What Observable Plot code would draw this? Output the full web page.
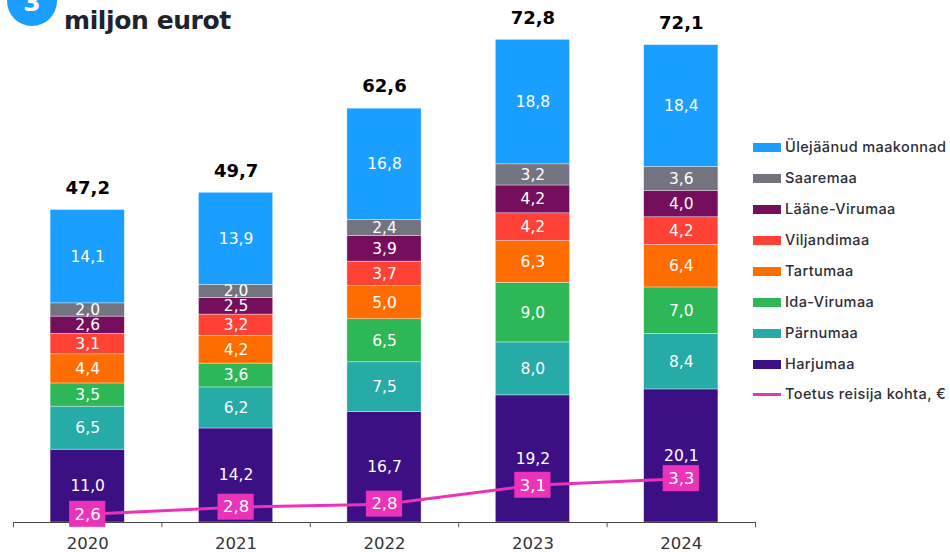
<!DOCTYPE html>
<html><head><meta charset="utf-8">
<script src="https://cdn.jsdelivr.net/npm/d3@7"></script>
<script src="https://cdn.jsdelivr.net/npm/@observablehq/plot@0.6"></script>
<style>
html,body{margin:0;padding:0;background:#fff}
#wrap{position:relative;width:950px;height:552px;overflow:hidden}
#wrap svg{position:absolute;left:0;top:0}
.t{position:absolute;white-space:nowrap}
#title{left:64px;top:5px;font:700 25px/32px "DejaVu Sans",sans-serif;color:#22222c;letter-spacing:-.4px}
#badge{left:7px;top:-24px;width:50px;height:50px;border-radius:50%;background:#1a9eff;color:#fff;font:700 25px/54px "DejaVu Sans",sans-serif;text-align:center;}
.li{font:500 14.5px/18px "Inter",sans-serif;color:#2e2e38;left:785px;letter-spacing:.4px}
.sw{position:absolute;left:753px;width:28px;height:9px}
</style></head><body><div id="wrap"></div>
<script>
const years = ["2020","2021","2022","2023","2024"];
const seriesNames = ["Harjumaa","Pärnumaa","Ida-Virumaa","Tartumaa","Viljandimaa","Lääne-Virumaa","Saaremaa","Ülejäänud maakonnad"];
const colors = ["#3d0f85","#26aba6","#2db757","#ff6d00","#ff4136","#750e5c","#747480","#1a9eff"];
const harjumaa = [11.0,14.2,16.7,19.2,20.1];
const parnumaa = [6.5,6.2,7.5,8.0,8.4];
const idaVirumaa = [3.5,3.6,6.5,9.0,7.0];
const tartumaa = [4.4,4.2,5.0,6.3,6.4];
const viljandimaa = [3.1,3.2,3.7,4.2,4.2];
const laaneVirumaa = [2.6,2.5,3.9,4.2,4.0];
const saaremaa = [2.0,2.0,2.4,3.2,3.6];
const ulejaanud = [14.1,13.9,16.8,18.8,18.4];
const totals = [47.2,49.7,62.6,72.8,72.1];
const toetus = [2.6,2.8,2.8,3.1,3.3];
// plotted height of the subsidy line, estimated (labels are rounded)
const toetusPlotted = [2.6,2.74,2.8,3.17,3.3];
const lineLabel = "Toetus reisija kohta, €";
const comma = v => v.toFixed(1).replace(".",",");

const allSeries = [harjumaa,parnumaa,idaVirumaa,tartumaa,viljandimaa,laaneVirumaa,saaremaa,ulejaanud];
const rows = allSeries.flatMap((vals,i)=>vals.map((v,j)=>({year:years[j],s:seriesNames[i],v})));
const totalRows = years.map((year,j)=>({year,v:totals[j]}));
// secondary axis expressed in units of the primary axis
const sec = v => (v-2.44)*7.7;
const lineRows = years.map((year,j)=>({year,y:sec(toetusPlotted[j]),label:comma(toetus[j])}));
const stackOpts = {x:"year",y:"v",z:"s",order:null};

const chart = Plot.plot({
  width:950,height:552,marginLeft:13,marginRight:195,marginTop:0,marginBottom:30,
  x:{domain:years,paddingInner:0.5,paddingOuter:0.25,align:0.5,round:false,axis:null},
  y:{domain:[0,72.8],range:[522,40],axis:null},
  color:{domain:seriesNames,range:colors},
  style:{fontFamily:"'DejaVu Sans',sans-serif",background:"#fff"},
  marks:[
    Plot.barY(rows,Plot.stackY({...stackOpts,fill:"s",stroke:"#fff",strokeWidth:0.6,strokeOpacity:0.6})),
    Plot.text(rows,Plot.stackY({...stackOpts,text:d=>comma(d.v),fill:"#fff",fontSize:15.5})),
    Plot.text(totalRows,{x:"year",y:"v",text:d=>comma(d.v),dy:-22,fontSize:18,fontWeight:700,fill:"#000"}),
    Plot.ruleY([0],{stroke:"#444",strokeWidth:1.2}),
    Plot.ruleX(years,{x:d=>d,y1:0,y2:-0.8,dx:-74.2,stroke:"#555"}),
    Plot.ruleX(years.slice(-1),{x:d=>d,y1:0,y2:-0.8,dx:74.2,stroke:"#555"}),
    Plot.line(lineRows,{x:"year",y:"y",stroke:"#ea33b8",strokeWidth:3}),
    Plot.barY(lineRows,{x:"year",y1:d=>d.y-1.96,y2:d=>d.y+1.96,insetLeft:19,insetRight:19,fill:"#ea33b8"}),
    Plot.text(lineRows,{x:"year",y:"y",text:"label",fill:"#fff",fontSize:16.5}),
    Plot.text(years,{x:d=>d,y:0,text:d=>d,dy:21,fontSize:16.5,fill:"#333"})
  ]
});
const wrap=document.getElementById("wrap");
wrap.appendChild(chart);
function add(cls,id,txt){const e=document.createElement("div");e.className=cls;if(id)e.id=id;e.textContent=txt;wrap.appendChild(e);return e;}
add("t","badge","3");
add("t","title","miljon eurot");
const legendY=[364,333,302,271,240,209,178,147];
seriesNames.forEach((n,i)=>{
  const s=add("sw",null,"");s.style.top=(legendY[i]-4.5)+"px";s.style.background=colors[i];
  const l=add("t li",null,n);l.style.top=(legendY[i]-9)+"px";
});
const s=add("sw",null,"");s.style.top="393px";s.style.height="3px";s.style.background="#ea33b8";
const l=add("t li",null,lineLabel);l.style.top="385px";
</script></body></html>
